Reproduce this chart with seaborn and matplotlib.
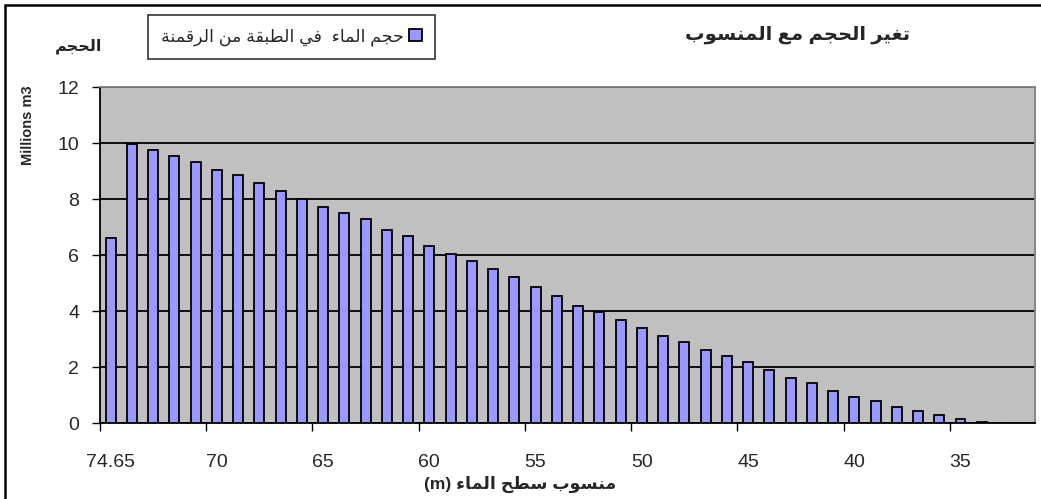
import matplotlib
matplotlib.use("Agg")
import matplotlib.pyplot as plt
import matplotlib.patches as mpatches
import seaborn as sns
import pandas as pd

# المنسوب (m) وحجم الماء (مليون م3)
levels = ["74.65"] + [str(v) for v in range(74, 31, -1)]
volumes = [6.60, 9.98, 9.76, 9.53, 9.33, 9.05, 8.84, 8.56, 8.28, 8.00,
           7.72, 7.51, 7.30, 6.88, 6.67, 6.32, 6.05, 5.80, 5.51, 5.22,
           4.87, 4.53, 4.17, 3.96, 3.67, 3.40, 3.12, 2.90, 2.60, 2.40,
           2.18, 1.91, 1.62, 1.42, 1.14, 0.93, 0.79, 0.57, 0.43, 0.28,
           0.13, 0.05, 0.0, 0.0]
tick_labels = ["74.65", "70", "65", "60", "55", "50", "45", "40", "35"]

title_txt = "تغير الحجم مع المنسوب"
vol_txt = "الحجم"
legend_txt = "حجم الماء  في الطبقة من الرقمنة"
xlabel_txt = "منسوب سطح الماء"

# matplotlib لا يشكل الحروف العربية، فنحولها لأشكال العرض (Presentation Forms-B)
FORMS = {
    'ء': (0xFE80,), 'ا': (0xFE8D, 0xFE8E), 'ة': (0xFE93, 0xFE94),
    'ر': (0xFEAD, 0xFEAE), 'و': (0xFEED, 0xFEEE),
    'ب': (0xFE8F, 0xFE90, 0xFE91, 0xFE92), 'ت': (0xFE95, 0xFE96, 0xFE97, 0xFE98),
    'ج': (0xFE9D, 0xFE9E, 0xFE9F, 0xFEA0), 'ح': (0xFEA1, 0xFEA2, 0xFEA3, 0xFEA4),
    'س': (0xFEB1, 0xFEB2, 0xFEB3, 0xFEB4), 'ط': (0xFEC1, 0xFEC2, 0xFEC3, 0xFEC4),
    'ع': (0xFEC9, 0xFECA, 0xFECB, 0xFECC), 'غ': (0xFECD, 0xFECE, 0xFECF, 0xFED0),
    'ف': (0xFED1, 0xFED2, 0xFED3, 0xFED4), 'ق': (0xFED5, 0xFED6, 0xFED7, 0xFED8),
    'ل': (0xFEDD, 0xFEDE, 0xFEDF, 0xFEE0), 'م': (0xFEE1, 0xFEE2, 0xFEE3, 0xFEE4),
    'ن': (0xFEE5, 0xFEE6, 0xFEE7, 0xFEE8), 'ي': (0xFEF1, 0xFEF2, 0xFEF3, 0xFEF4),
}


def shape(txt):
    out = []
    for i, ch in enumerate(txt):
        f = FORMS.get(ch)
        if f is None:
            out.append(ch)
            continue
        prev = txt[i - 1] if i > 0 else ''
        nxt = txt[i + 1] if i + 1 < len(txt) else ''
        jp = len(f) > 1 and prev in FORMS and len(FORMS[prev]) == 4
        jn = len(f) == 4 and nxt in FORMS and len(FORMS[nxt]) > 1
        out.append(chr(f[(2 if jn else 0) + (1 if jp else 0)]))
    return ''.join(reversed(out))


sns.set_style("white")
plt.rcParams['font.family'] = ['Liberation Sans', 'DejaVu Sans']

df = pd.DataFrame({"level": levels, "volume": volumes})

fig = plt.figure(figsize=(10.41, 4.99), dpi=100)
ax = fig.add_axes([0.0961, 0.1523, 0.898, 0.6733])
ax.set_facecolor("#C0C0C0")

sns.barplot(ax=ax, data=df, x="level", y="volume", order=levels,
            color="#9999FF", saturation=1, width=0.47,
            edgecolor="black", linewidth=1.3, label=shape(legend_txt), zorder=3)

ax.set_ylim(0, 12)
ax.set_yticks(range(0, 13, 2))
ax.yaxis.grid(True, color="black", linewidth=1.3)
ax.set_axisbelow(True)
ax.tick_params(axis="y", direction="out", length=6, width=1, left=True,
               labelsize=14, color="black", pad=9)

ax.set_xlim(-0.5, len(levels) - 0.5)
ax.set_xticks([i - 0.5 for i in range(0, 41, 5)])
ax.set_xticklabels([])
ax.set_xticks(range(0, 41, 5), minor=True)
ax.set_xticklabels(tick_labels, minor=True)
ax.tick_params(axis="x", which="major", direction="out", length=6, width=1,
               bottom=True, color="black")
ax.tick_params(axis="x", which="minor", length=0, labelsize=14, pad=22)

for s in ["left", "bottom"]:
    ax.spines[s].set_color("black")
    ax.spines[s].set_linewidth(1.3)
for s in ["top", "right"]:
    ax.spines[s].set_color("#808080")
    ax.spines[s].set_linewidth(1.3)

ax.set_xlabel("")
ax.set_ylabel("Millions m3", fontsize=10.5, fontweight="bold")
ax.yaxis.set_label_coords(-0.07, 0.885)

fig.text(0.766, 0.93, shape(title_txt), fontsize=14, fontweight="bold",
         ha="center", va="center")
fig.text(0.075, 0.907, shape(vol_txt), fontsize=11.5, fontweight="bold",
         ha="center", va="center")
fig.text(0.5, 0.03, "(m) " + shape(xlabel_txt), fontsize=12.5, fontweight="bold",
         ha="center", va="center")

handles, labels = ax.get_legend_handles_labels()
ax.legend_ = None
leg = fig.legend(handles, labels, loc="center", bbox_to_anchor=(0.280, 0.926),
                 markerfirst=False, fontsize=12.5, frameon=True, fancybox=False,
                 edgecolor="black", handlelength=0.75, handleheight=0.75,
                 borderpad=0.75, handletextpad=0.3)
leg.get_frame().set_linewidth(1.2)

# إطار المخطط
fig.patches.append(mpatches.Rectangle((5 / 1041, -0.2), 1.2, 1.2 - 5 / 499,
                                      transform=fig.transFigure, fill=False,
                                      edgecolor="black", linewidth=1.8))

fig.savefig("out.png", dpi=100)
